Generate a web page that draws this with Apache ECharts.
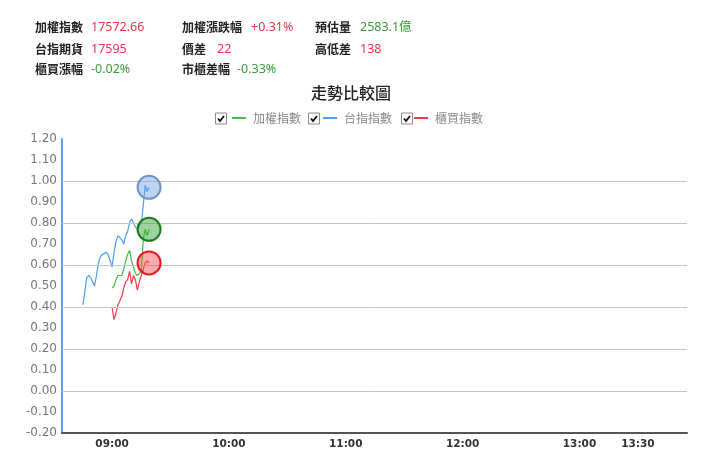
<!DOCTYPE html>
<html>
<head>
<meta charset="utf-8">
<script src="https://cdn.jsdelivr.net/npm/echarts@6/dist/echarts.min.js"></script>
<style>
  html, body { margin: 0; padding: 0; background: #fff; }
  #main { width: 720px; height: 471px; }
</style>
</head>
<body>
<div id="main"></div>
<script>
// 台指期 (08:45 起)
const futTimes = ['08:45', '08:46', '08:47', '08:48', '08:49', '08:50', '08:51', '08:52', '08:53', '08:54',
  '08:55', '08:56', '08:57', '08:58', '08:59', '09:00', '09:01', '09:02', '09:03', '09:04',
  '09:05', '09:06', '09:07', '09:08', '09:09', '09:10', '09:11', '09:12', '09:13', '09:14',
  '09:15', '09:16', '09:17', '09:18', '09:19'];
const futValues = [0.41, 0.47, 0.54, 0.55, 0.54, 0.52, 0.50, 0.55, 0.61, 0.64,
  0.65, 0.65, 0.66, 0.65, 0.62, 0.59, 0.66, 0.71, 0.74, 0.74,
  0.72, 0.70, 0.74, 0.76, 0.80, 0.82, 0.80, 0.78, 0.77, 0.79,
  0.80, 0.88, 0.98, 0.95, 0.97];

// 現貨 (09:00 起)
const spotTimes = ['09:00', '09:01', '09:02', '09:03', '09:04', '09:05', '09:06', '09:07', '09:08', '09:09',
  '09:10', '09:11', '09:12', '09:13', '09:14', '09:15', '09:16', '09:17', '09:18', '09:19'];
const taiexValues = [0.49, 0.50, 0.53, 0.55, 0.55, 0.55, 0.58, 0.62, 0.65, 0.67,
  0.62, 0.59, 0.56, 0.55, 0.56, 0.57, 0.72, 0.77, 0.74, 0.77];
const otcValues = [0.40, 0.34, 0.37, 0.41, 0.43, 0.45, 0.49, 0.52, 0.53, 0.57,
  0.51, 0.55, 0.53, 0.48, 0.52, 0.55, 0.58, 0.61, 0.62, 0.61];

const seriesNames = ['加權指數', '台指指數', '櫃買指數'];
const xTickLabels = ['09:00', '10:00', '11:00', '12:00', '13:00', '13:30'];
const yTickValues = [-0.2, -0.1, 0, 0.1, 0.2, 0.3, 0.4, 0.5, 0.6, 0.7, 0.8, 0.9, 1.0, 1.1, 1.2];
const yGridValues = [0, 0.2, 0.4, 0.6, 0.8, 1.0];

// 上方資訊欄
const headerLabels = ['加權指數', '加權漲跌幅', '預估量', '台指期貨', '價差', '高低差', '櫃買漲幅', '市櫃差幅'];
const headerValues = ['17572.66', '+0.31%', '2583.1億', '17595', '22', '138', '-0.02%', '-0.33%'];
const headerUp = [true, true, false, true, true, true, false, false];

const RED = '#f0324a';
const GREEN = '#3a9c3a';

function toMin(s) {
  const p = s.split(':');
  return +p[0] * 60 + +p[1];
}
function fmtMin(m) {
  const h = Math.floor(m / 60), mm = Math.round(m % 60);
  return (h < 10 ? '0' + h : '' + h) + ':' + (mm < 10 ? '0' + mm : '' + mm);
}
function pairs(times, vals) {
  return times.map(function (t, i) { return [toMin(t), vals[i]]; });
}

const chart = echarts.init(document.getElementById('main'));

// header graphic
const headerGraphic = [];
const colLabelX = [35, 182, 315];
const colValueX = [[91, 251, 360], [91, 217, 360], [91, 237, 360]];
const rowY = [27.7, 49.3, 69.5];
headerLabels.forEach(function (lab, i) {
  const r = Math.floor(i / 3), c = i % 3;
  headerGraphic.push({
    type: 'text', x: colLabelX[c], y: rowY[r],
    style: { text: lab, fontSize: 12, fontFamily: 'Noto Sans CJK TC', fill: '#222', fontWeight: 'bold', verticalAlign: 'middle' }
  });
  headerGraphic.push({
    type: 'text', x: colValueX[r][c], y: rowY[r],
    style: { text: headerValues[i], fontSize: 12.5, fontFamily: 'Noto Sans, Noto Sans CJK TC', fill: headerUp[i] ? RED : GREEN, verticalAlign: 'middle' }
  });
});

// legend check boxes
const boxX = [215, 308, 401];
boxX.forEach(function (x) {
  headerGraphic.push({
    type: 'group', left: x, top: 112.5,
    children: [
      { type: 'rect', shape: { x: 0, y: 0, width: 11, height: 11 }, style: { fill: '#fff', stroke: '#8a8a8a', lineWidth: 1 } },
      { type: 'polyline', shape: { points: [[2.5, 5.5], [4.5, 8], [8.5, 3]] }, style: { stroke: '#111', lineWidth: 1.8, fill: null } }
    ]
  });
});

const lineColors = ['#3cc23c', '#4a9ff0', '#ee3b45'];
const circleFill = ['rgba(60,165,60,0.5)', 'rgba(110,160,225,0.45)', 'rgba(240,70,70,0.45)'];
const circleBorder = ['#1f7a1f', '#6f93cc', '#e8181e'];
const seriesData = [pairs(spotTimes, taiexValues), pairs(futTimes, futValues), pairs(spotTimes, otcValues)];

const series = seriesNames.map(function (name, i) {
  const d = seriesData[i];
  const s = {
    name: name,
    type: 'line',
    data: d,
    showSymbol: false,
    symbol: 'none',
    lineStyle: { color: lineColors[i], width: 1.2 },
    itemStyle: { color: lineColors[i] },
    animation: false,
    markPoint: {
      symbol: 'circle',
      symbolSize: 23,
      silent: true,
      data: [{ coord: d[d.length - 1] }],
      itemStyle: { color: circleFill[i], borderColor: circleBorder[i], borderWidth: 2 },
      label: { show: false }
    }
  };
  if (i === 0) {
    s.markLine = {
      silent: true,
      symbol: 'none',
      label: { show: false },
      lineStyle: { color: '#c4c4c4', width: 1, type: 'solid' },
      data: yGridValues.map(function (v) { return { yAxis: v }; })
    };
  }
  return s;
});

chart.setOption({
  animation: false,
  title: {
    text: '走勢比較圖',
    left: 311, top: 85, padding: 0,
    textStyle: { fontSize: 16, fontWeight: 500, color: '#222', fontFamily: 'Noto Sans CJK TC' }
  },
  legend: {
    data: seriesNames,
    left: 232, top: 112, padding: 0,
    icon: 'rect',
    itemWidth: 14, itemHeight: 2,
    itemGap: 22,
    selectedMode: false,
    textStyle: { fontSize: 12, color: '#888', fontFamily: 'Noto Sans CJK TC', padding: [0, 0, 0, 2], width: 48 }
  },
  graphic: headerGraphic,
  grid: { left: 62, right: 33, top: 139, bottom: 38, containLabel: false },
  xAxis: {
    type: 'value',
    min: 514.3, max: 835.2,
    splitLine: { show: false },
    axisTick: { show: false },
    axisLine: { onZero: false, lineStyle: { color: '#555', width: 2 } },
    axisLabel: {
      customValues: xTickLabels.map(toMin),
      formatter: function (v) { return fmtMin(v); },
      color: '#3a3030', fontSize: 10.5, fontWeight: 'bold', fontFamily: 'DejaVu Sans', margin: 6
    }
  },
  yAxis: {
    type: 'value',
    min: -0.2, max: 1.2, interval: 0.1,
    splitLine: { show: false },
    axisTick: { show: false },
    axisLine: { show: true, lineStyle: { color: '#5a9fe0', width: 2 } },
    axisLabel: {
      customValues: yTickValues,
      formatter: function (v) { return v.toFixed(2); },
      color: '#777', fontSize: 12, fontFamily: 'DejaVu Sans', margin: 5
    }
  },
  series: series
});
</script>
</body>
</html>
